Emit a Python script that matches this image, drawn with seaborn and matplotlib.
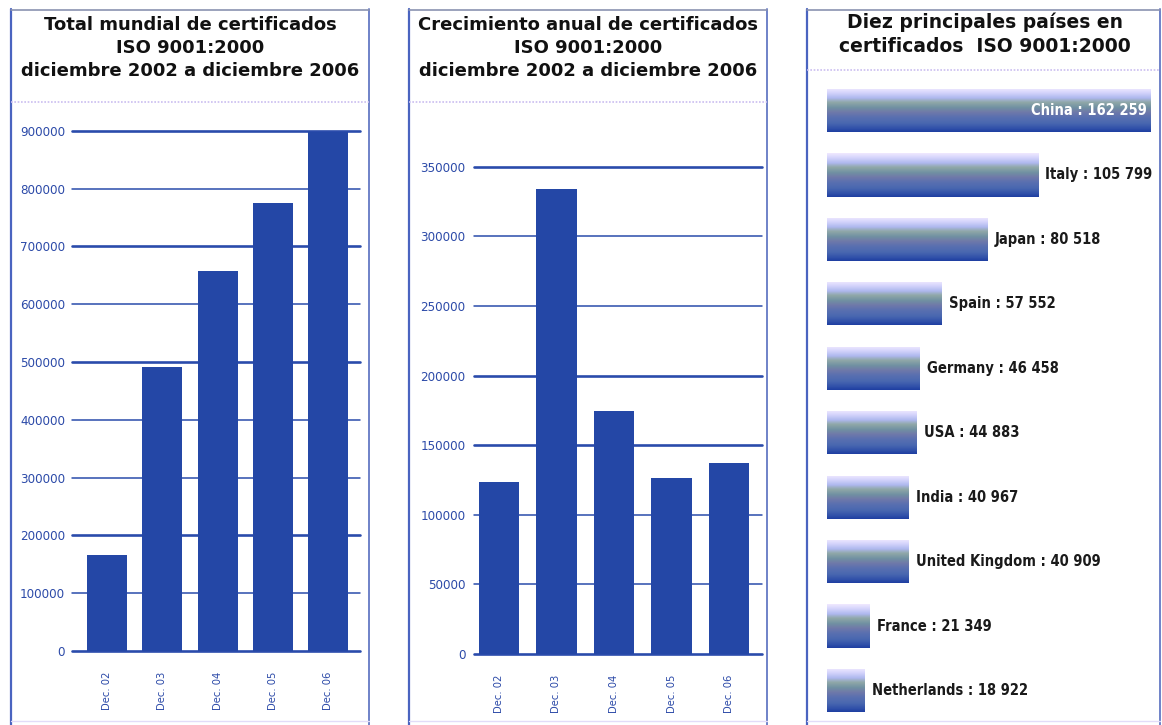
import os
import numpy as np
import pandas as pd
import matplotlib
matplotlib.use("Agg")
import matplotlib.pyplot as plt
import seaborn as sns
from matplotlib import font_manager
from matplotlib.font_manager import FontProperties
from matplotlib.colors import LinearSegmentedColormap
from matplotlib.lines import Line2D

# ---------------- data ----------------
periods = ["Dec. 02", "Dec. 03", "Dec. 04", "Dec. 05", "Dec. 06"]
total_certs = [166000, 491000, 657000, 775600, 898000]
annual_growth = [123800, 333900, 174500, 126600, 136900]
total_ticks = [0, 100000, 200000, 300000, 400000, 500000, 600000, 700000, 800000, 900000]
growth_ticks = [0, 50000, 100000, 150000, 200000, 250000, 300000, 350000]

countries = ["China", "Italy", "Japan", "Spain", "Germany", "USA", "India",
             "United Kingdom", "France", "Netherlands"]
country_counts = [162259, 105799, 80518, 57552, 46458, 44883, 40967, 40909, 21349, 18922]

titles = [
    "Total mundial de certificados\nISO 9001:2000\ndiciembre 2002 a diciembre 2006",
    "Crecimiento anual de certificados\nISO 9001:2000\ndiciembre 2002 a diciembre 2006",
    "Diez principales países en\ncertificados  ISO 9001:2000",
]

# ---------------- style ----------------
sns.set_theme(style="white")
plt.rcParams["font.family"] = ["DejaVu Sans"]

files = {os.path.basename(f.fname): f.fname for f in font_manager.fontManager.ttflist}


def find_font(cands):
    for c in cands:
        if c in files:
            return files[c]
    return None


reg_file = find_font(["LiberationSansNarrow-Regular.ttf", "DejaVuSansCondensed.ttf",
                      "NotoSans-Condensed.ttf", "RobotoCondensed-Regular.ttf",
                      "OpenSans-CondensedRegular.ttf"])
bold_file = find_font(["LiberationSansNarrow-Bold.ttf", "DejaVuSansCondensed-Bold.ttf",
                       "NotoSans-CondensedBold.ttf", "RobotoCondensed-Bold.ttf",
                       "OpenSans-CondensedBold.ttf"])
if reg_file:
    FP_REG = dict(fontproperties=FontProperties(fname=reg_file))
    TICK_SIZE_Y, TICK_SIZE_X = 9.5, 8.0
else:
    FP_REG = dict(family="DejaVu Sans")
    TICK_SIZE_Y, TICK_SIZE_X = 8.0, 7.0
if bold_file:
    FP_BOLD = dict(fontproperties=FontProperties(fname=bold_file))
    LAB_SIZE = 10.5
else:
    FP_BOLD = dict(family="DejaVu Sans", fontweight="bold")
    LAB_SIZE = 9.0

BAR = "#2447A6"
GRID = "#2A4BAB"
TICK = "#2C4AA8"

W, H = 1162, 725
fig = plt.figure(figsize=(W / 100, H / 100), dpi=100)
fig.patch.set_facecolor("white")


def px_axes(x0, y0, x1, y1):
    return fig.add_axes([x0 / W, 1 - y1 / H, (x1 - x0) / W, (y1 - y0) / H])


def fline(xs, ys, **kw):
    fig.add_artist(Line2D([x / W for x in xs], [1 - y / H for y in ys],
                          transform=fig.transFigure, **kw))


# panel frames
frames = [(11, 369, 102), (408.5, 767, 102), (807, 1160, 70)]
for (l, r, tb) in frames:
    fline([l, l], [9, 725], color="#4a64c0", lw=1.6)
    fline([r, r], [9, 725], color="#6f82c8", lw=1.4)
    fline([l, r], [9.5, 9.5], color="#8a92b0", lw=1.2)
    fline([l, r], [tb, tb], color="#cbbdf0", lw=1.2, ls=(0, (1, 1)))
    fline([l, r], [721, 721], color="#e2dcf8", lw=1.0)

# titles
fig.text(190 / W, 1 - 48 / H, titles[0], ha="center", va="center",
         fontsize=13, fontweight="bold", linespacing=1.38, color="#111111")
fig.text(588 / W, 1 - 48 / H, titles[1], ha="center", va="center",
         fontsize=13, fontweight="bold", linespacing=1.38, color="#111111")
fig.text(985 / W, 1 - 34 / H, titles[2], ha="center", va="center",
         fontsize=13.5, fontweight="bold", linespacing=1.3, color="#111111")


def column_panel(ax, values, ticks, thick, width, xlim, pad_y):
    df = pd.DataFrame({"period": periods, "value": values})
    sns.barplot(data=df, x="period", y="value", color=BAR, saturation=1,
                width=width, ax=ax, zorder=3, edgecolor="none")
    for t in ticks:
        ax.axhline(t, color=GRID, lw=1.9 if t in thick else 1.1, zorder=1, clip_on=False)
    ax.set_ylim(0, ticks[-1])
    ax.set_xlim(*xlim)
    ax.set_yticks(ticks)
    ax.set_yticklabels([str(t) for t in ticks], color=TICK, fontsize=TICK_SIZE_Y, **FP_REG)
    ax.set_xticks(range(len(periods)))
    ax.set_xticklabels(periods, rotation=90, color=TICK, fontsize=TICK_SIZE_X,
                       va="top", **FP_REG)
    for lab in ax.get_yticklabels():
        lab.set_fontsize(TICK_SIZE_Y)
    for lab in ax.get_xticklabels():
        lab.set_fontsize(TICK_SIZE_X)
    ax.tick_params(axis="y", length=0, pad=pad_y)
    ax.tick_params(axis="x", length=0, pad=15)
    ax.set_xlabel("")
    ax.set_ylabel("")
    for s in ax.spines.values():
        s.set_visible(False)
    ax.patch.set_alpha(0)


ax1 = px_axes(72, 130.7, 360, 651)
column_panel(ax1, total_certs, total_ticks, {0, 200000, 500000, 700000, 900000},
             0.72, (-0.63, 4.57), 5)

ax2 = px_axes(474, 166.7, 762, 654)
column_panel(ax2, annual_growth, growth_ticks, {0, 150000, 200000, 350000},
             0.70, (-0.43, 4.57), 6)

# ---------------- horizontal gradient bars ----------------
ax3 = px_axes(827, 78.3, 1155, 722.7)
df3 = pd.DataFrame({"country": countries, "count": country_counts})
sns.barplot(data=df3, y="country", x="count", orient="h", color=BAR, saturation=1,
            width=0.67, ax=ax3, edgecolor="none")
xmax = country_counts[0] * 328 / 324
grad_cmap = LinearSegmentedColormap.from_list("iso", [
    (0.00, "#efe8ff"), (0.10, "#d4d4fb"), (0.22, "#aeb8ee"), (0.32, "#90a8a8"),
    (0.44, "#7191a2"), (0.55, "#7079a9"), (0.66, "#5a70b0"), (0.80, "#4a68b0"),
    (0.92, "#3252aa"), (1.00, "#1f3fa2")])
grad = np.linspace(0, 1, 64).reshape(-1, 1)
for p in ax3.patches:
    x, y, w, h = p.get_x(), p.get_y(), p.get_width(), p.get_height()
    im = ax3.imshow(grad, cmap=grad_cmap, aspect="auto", origin="upper",
                    extent=(x, x + w, y + h, y), zorder=3, interpolation="bilinear")
    im.set_clip_path(p)
ax3.set_xlim(0, xmax)
ax3.set_ylim(len(countries) - 0.5, -0.5)

for i, (c, v) in enumerate(zip(countries, country_counts)):
    label = f"{c} : {v:,}".replace(",", " ")
    if i == 0:
        t = ax3.annotate(label, (v, i), xytext=(-3, 0), textcoords="offset points",
                         ha="right", va="center", color="white", zorder=5, **FP_BOLD)
    else:
        t = ax3.annotate(label, (v, i), xytext=(5, 0), textcoords="offset points",
                         ha="left", va="center", color="#1a1a1a", zorder=5,
                         annotation_clip=False, **FP_BOLD)
    t.set_fontsize(LAB_SIZE)
ax3.set_xticks([])
ax3.set_yticks([])
ax3.set_xlabel("")
ax3.set_ylabel("")
for s in ax3.spines.values():
    s.set_visible(False)
ax3.patch.set_alpha(0)

fig.savefig("out.png", dpi=100, facecolor="white")
